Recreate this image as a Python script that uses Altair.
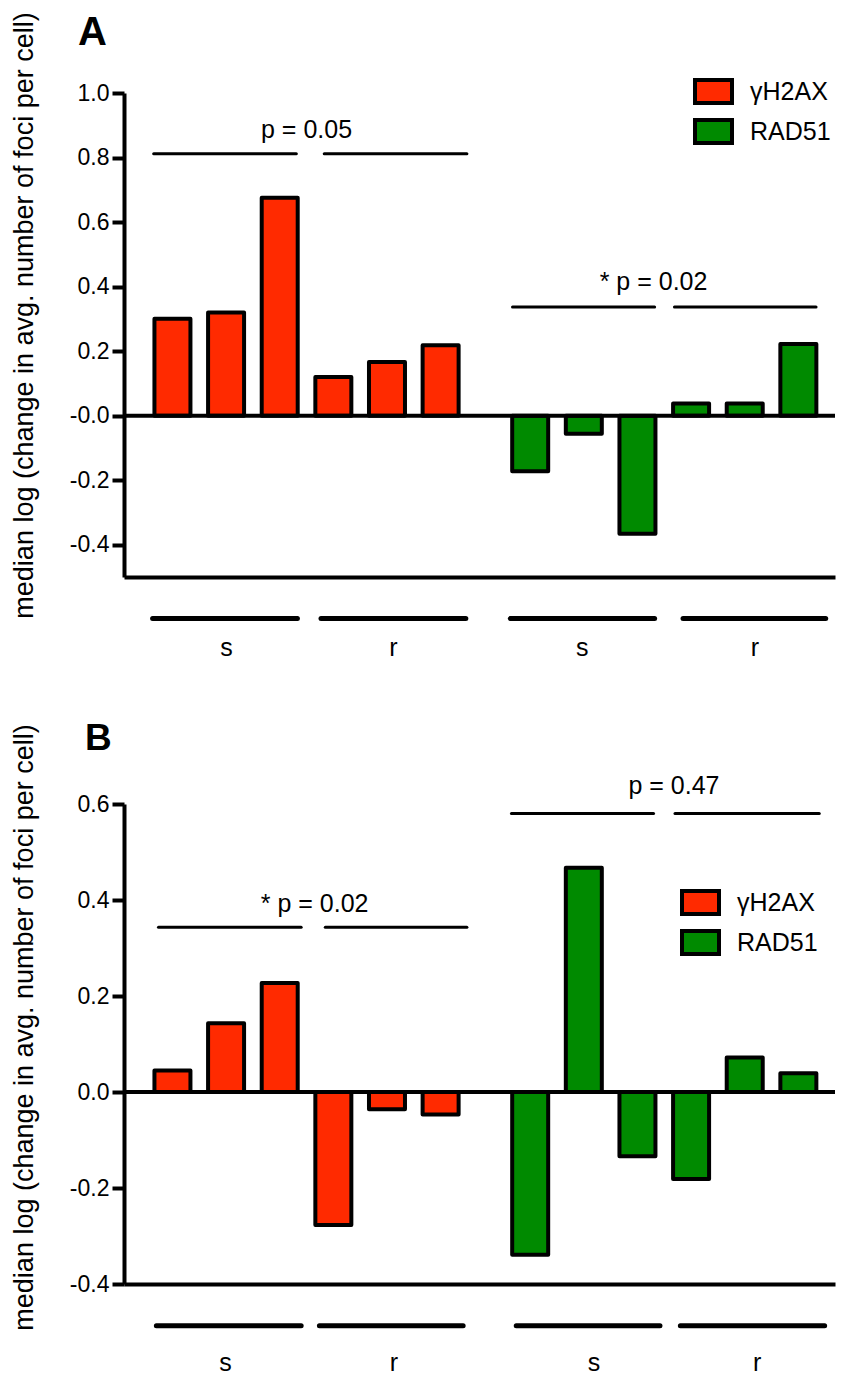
import altair as alt
import pandas as pd

# ---------------- data ----------------
series = ["γH2AX"] * 6 + ["RAD51"] * 6
slots = [1, 2, 3, 4, 5, 6, 7.67, 8.67, 9.67, 10.67, 11.67, 12.67]

values_a = [0.30, 0.32, 0.675, 0.12, 0.166, 0.218,
            -0.172, -0.056, -0.366, 0.038, 0.038, 0.222]
values_b = [0.045, 0.143, 0.227, -0.277, -0.036, -0.047,
            -0.339, 0.467, -0.134, -0.181, 0.072, 0.039]

# significance brackets (slot units / value units)
a_sig_x1 = [0.65, 3.83, 7.34, 10.36]
a_sig_x2 = [3.31, 6.49, 9.99, 13.0]
a_sig_y = [0.812, 0.812, 0.337, 0.337]
a_p_text = ["p = 0.05", "* p = 0.02"]
a_p_x = [3.5, 9.97]
a_p_y = [0.862, 0.391]
a_grp_x1 = [0.63, 3.77, 7.3, 10.52]
a_grp_x2 = [3.33, 6.47, 9.99, 13.18]
a_grp_y = [-0.629] * 4
a_grp_text = ["s", "r", "s", "r"]
a_grp_lx = [2.01, 5.12, 8.64, 11.86]
a_grp_ly = [-0.746] * 4

b_sig_x1 = [0.74, 3.85, 7.32, 10.37]
b_sig_x2 = [3.40, 6.49, 9.97, 13.06]
b_sig_y = [0.343, 0.343, 0.58, 0.58]
b_p_text = ["* p = 0.02", "p = 0.47"]
b_p_x = [3.65, 10.35]
b_p_y = [0.376, 0.62]
b_grp_x1 = [0.70, 3.74, 7.41, 10.47]
b_grp_x2 = [3.40, 6.42, 10.09, 13.16]
b_grp_y = [-0.487] * 4
b_grp_text = ["s", "r", "s", "r"]
b_grp_lx = [1.99, 5.13, 8.86, 11.9]
b_grp_ly = [-0.581] * 4

y_ticks_a = [-0.4, -0.2, 0.0, 0.2, 0.4, 0.6, 0.8, 1.0]
y_ticks_b = [-0.4, -0.2, 0.0, 0.2, 0.4, 0.6]

# ---------------- style ----------------
RED = "#ff2a00"
GREEN = "#008a00"
FONT = "Liberation Sans"
X_DOMAIN = [0.19, 13.26]
W = 711
YTITLE = "median log (change in avg. number of foci per cell)"


def panel(letter, values, ydomain, yticks, label_expr, sig, ptxt, grp, glab,
          legend_xy, height, title_dx, title_offset, title_size, title_y):
    xscale = alt.Scale(domain=X_DOMAIN, nice=False, zero=False)
    xaxis = alt.Axis(title=None, labels=False, ticks=False, grid=False,
                     domain=True, domainWidth=4, domainColor="black")
    yscale = alt.Scale(domain=ydomain, nice=False, zero=False)
    yaxis = alt.Axis(title=YTITLE, values=yticks, labelExpr=label_expr,
                     grid=False, domainWidth=4, domainColor="black",
                     tickSize=12, tickWidth=4, tickColor="black",
                     labelFontSize=23, labelFont=FONT, labelColor="black",
                     labelPadding=3, titleFontSize=27, titleFont=FONT,
                     titleFontWeight="normal", titleColor="black",
                     titlePadding=31, titleY=title_y)

    def X(f):
        return alt.X(f, type="quantitative", scale=xscale, axis=xaxis)

    def Y(f):
        return alt.Y(f, type="quantitative", scale=yscale, axis=yaxis)

    bars_df = pd.DataFrame({"slot": slots, "value": values, "series": series})
    bars = alt.Chart(bars_df).mark_bar(
        size=36, stroke="black", strokeWidth=4, strokeJoin="round", opacity=1
    ).encode(
        x=X("slot"),
        y=Y("value"),
        y2=alt.Y2Datum(0),
        color=alt.Color(
            "series:N",
            scale=alt.Scale(domain=["γH2AX", "RAD51"], range=[RED, GREEN]),
            legend=alt.Legend(
                title=None, orient="none", legendX=legend_xy[0], legendY=legend_xy[1],
                symbolType="M-1,-0.62H1V0.62H-1Z", symbolSize=1369,
                symbolStrokeColor="black", symbolStrokeWidth=4, symbolOpacity=1,
                labelFontSize=25, labelFont=FONT, labelColor="black",
                labelOffset=16, rowPadding=-1,
            ),
        ),
    )

    zero = alt.Chart(pd.DataFrame({"z": [0]})).mark_rule(
        color="black", strokeWidth=4
    ).encode(y=Y("z"))

    sig_df = pd.DataFrame({"x1": sig[0], "x2": sig[1], "y": sig[2]})
    sig_rules = alt.Chart(sig_df).mark_rule(
        color="black", strokeWidth=3, strokeCap="round"
    ).encode(x=X("x1"), x2="x2:Q", y=Y("y"))

    p_df = pd.DataFrame({"t": ptxt[0], "x": ptxt[1], "y": ptxt[2]})
    p_text = alt.Chart(p_df).mark_text(
        fontSize=25, font=FONT, color="black", align="center", baseline="alphabetic"
    ).encode(x=X("x"), y=Y("y"), text="t:N")

    grp_df = pd.DataFrame({"x1": grp[0], "x2": grp[1], "y": grp[2]})
    grp_rules = alt.Chart(grp_df).mark_rule(
        color="black", strokeWidth=5, strokeCap="round"
    ).encode(x=X("x1"), x2="x2:Q", y=Y("y"))

    gl_df = pd.DataFrame({"t": glab[0], "x": glab[1], "y": glab[2]})
    gl_text = alt.Chart(gl_df).mark_text(
        fontSize=25, font=FONT, color="black", align="center", baseline="alphabetic"
    ).encode(x=X("x"), y=Y("y"), text="t:N")

    return alt.layer(bars, zero, sig_rules, p_text, grp_rules, gl_text).properties(
        width=W,
        height=height,
        title=alt.TitleParams(
            letter, anchor="start", frame="group", dx=title_dx, offset=title_offset,
            fontSize=title_size, fontWeight="bold", font=FONT, color="black",
            baseline="alphabetic",
        ),
    )


expr_a = "datum.value == 0 ? '-0.0' : (datum.value < 0 ? '-' : '') + format(abs(datum.value), '.1f')"
expr_b = "(datum.value < 0 ? '-' : '') + format(abs(datum.value), '.1f')"

panel_a = panel(
    "A", values_a, [-0.5, 1.0], y_ticks_a, expr_a,
    (a_sig_x1, a_sig_x2, a_sig_y), (a_p_text, a_p_x, a_p_y),
    (a_grp_x1, a_grp_x2, a_grp_y), (a_grp_text, a_grp_lx, a_grp_ly),
    (569, -22), 484, -46, -73, 40, 222,
)
panel_b = panel(
    "B", values_b, [-0.4, 0.6], y_ticks_b, expr_b,
    (b_sig_x1, b_sig_x2, b_sig_y), (b_p_text, b_p_x, b_p_y),
    (b_grp_x1, b_grp_x2, b_grp_y), (b_grp_text, b_grp_lx, b_grp_ly),
    (556, 78), 480, -39, -63, 37, 223,
)

chart = alt.vconcat(panel_a, panel_b, spacing=57).resolve_scale(
    x="independent", y="independent", color="independent"
).resolve_legend(color="independent").configure_view(stroke=None).properties(
    padding={"left": 2, "top": 3, "right": 0, "bottom": 5}
)

chart.save("out.html", embed_options={"renderer": "svg", "actions": False})
